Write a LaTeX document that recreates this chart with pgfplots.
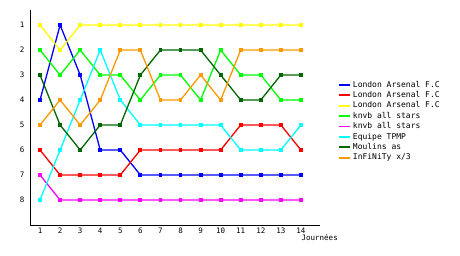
\documentclass[border=0pt]{standalone}
\usepackage{pgfplots}
\pgfplotsset{compat=1.18}
\usepackage{fontspec}
\setmainfont{DejaVu Sans Mono}
\definecolor{cBlue}{RGB}{0,0,255}
\definecolor{cRed}{RGB}{255,0,0}
\definecolor{cYellow}{RGB}{255,255,0}
\definecolor{cGreen}{RGB}{0,255,0}
\definecolor{cMag}{RGB}{255,0,255}
\definecolor{cCyan}{RGB}{0,255,255}
\definecolor{cDGreen}{RGB}{0,102,0}
\definecolor{cOrange}{RGB}{255,153,0}
\begin{document}
\begin{tikzpicture}[x=1pt,y=1pt]
\useasboundingbox[fill=white] (0,0) rectangle (460,255);
\begin{axis}[
  at={(30pt,30pt)}, anchor=south west,
  scale only axis, width=290pt, height=215pt,
  xmin=0.5, xmax=14.95, ymin=0.4, ymax=9,
  y dir=reverse,
  axis x line=bottom, axis y line=left,
  axis line style={-, line width=0.8pt},
  xtick={1,...,14}, ytick={1,...,8},
  major tick length=0pt,
  tick label style={font=\fontsize{7.5}{8}\selectfont},
  /pgf/number format/assume math mode=true,
  xticklabel style={yshift=1pt},
  yticklabel style={xshift=-2pt},
  xlabel={Journées},
  xlabel style={font=\fontsize{7.5}{8}\selectfont, at={(rel axis cs:1.062,-0.045)}, anchor=north east, inner sep=0pt},
  every axis plot/.append style={line width=1.3pt, mark=square*, mark size=1.3pt},
  legend style={at={(rel axis cs:1.062,0.68)}, anchor=north west, draw=none, fill=none,
    font=\fontsize{8}{8}\selectfont, row sep=-1.2pt, inner sep=0pt},
  legend cell align=left,
  legend image code/.code={\draw[#1, line width=1.8pt, mark=none] (0pt,0pt) -- (11pt,0pt);},
]
\addplot[cBlue] coordinates {(1,4)(2,1)(3,3)(4,6)(5,6)(6,7)(7,7)(8,7)(9,7)(10,7)(11,7)(12,7)(13,7)(14,7)};
\addlegendentry{London Arsenal F.C}
\addplot[cRed] coordinates {(1,6)(2,7)(3,7)(4,7)(5,7)(6,6)(7,6)(8,6)(9,6)(10,6)(11,5)(12,5)(13,5)(14,6)};
\addlegendentry{London Arsenal F.C}
\addplot[cYellow] coordinates {(1,1)(2,2)(3,1)(4,1)(5,1)(6,1)(7,1)(8,1)(9,1)(10,1)(11,1)(12,1)(13,1)(14,1)};
\addlegendentry{London Arsenal F.C}
\addplot[cGreen] coordinates {(1,2)(2,3)(3,2)(4,3)(5,3)(6,4)(7,3)(8,3)(9,4)(10,2)(11,3)(12,3)(13,4)(14,4)};
\addlegendentry{knvb all stars}
\addplot[cMag] coordinates {(1,7)(2,8)(3,8)(4,8)(5,8)(6,8)(7,8)(8,8)(9,8)(10,8)(11,8)(12,8)(13,8)(14,8)};
\addlegendentry{knvb all stars}
\addplot[cCyan] coordinates {(1,8)(2,6)(3,4)(4,2)(5,4)(6,5)(7,5)(8,5)(9,5)(10,5)(11,6)(12,6)(13,6)(14,5)};
\addlegendentry{Equipe TPMP}
\addplot[cDGreen] coordinates {(1,3)(2,5)(3,6)(4,5)(5,5)(6,3)(7,2)(8,2)(9,2)(10,3)(11,4)(12,4)(13,3)(14,3)};
\addlegendentry{Moulins as}
\addplot[cOrange] coordinates {(1,5)(2,4)(3,5)(4,4)(5,2)(6,2)(7,4)(8,4)(9,3)(10,4)(11,2)(12,2)(13,2)(14,2)};
\addlegendentry{InFiNiTy x/3}
\end{axis}
\end{tikzpicture}
\end{document}
